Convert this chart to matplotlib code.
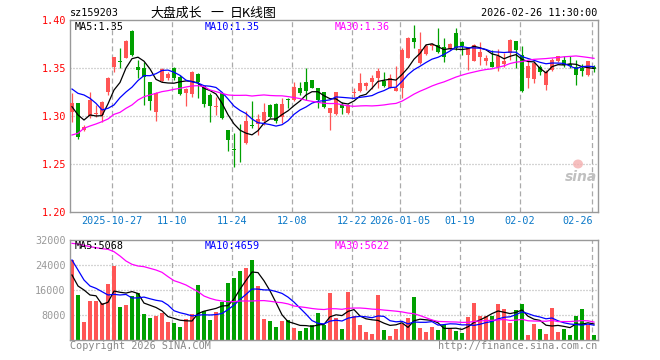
import numpy as np
import pandas as pd
import matplotlib
matplotlib.use("Agg")
import matplotlib.pyplot as plt
from matplotlib.patches import Ellipse

W, H = 660, 360
plt.rcParams["lines.scale_dashes"] = False
MONO = "DejaVu Sans Mono"
CJK = ["Noto Sans CJK SC", "DejaVu Sans"]

# daily candles, 2025-10-16 .. 2026-02-26 (88 trading days)
opens = [1.3038, 1.3132, 1.2854, 1.3004, 1.3017, 1.3011, 1.3254, 1.3514, 1.3576, 1.3608,
         1.3886, 1.3514, 1.3497, 1.3351, 1.3045, 1.3365, 1.3392, 1.3504, 1.3410, 1.3236,
         1.3229, 1.3438, 1.3313, 1.3219, 1.3097, 1.3236, 1.2854, 1.2656, 1.2785, 1.2715,
         1.2906, 1.2913, 1.2948, 1.3115, 1.3122, 1.2993, 1.3177, 1.3167, 1.3295, 1.3351,
         1.3375, 1.3288, 1.3254, 1.3028, 1.3017, 1.3115, 1.3028, 1.3243, 1.3261, 1.3316,
         1.3351, 1.3392, 1.3368, 1.3295, 1.3264, 1.3295, 1.3608, 1.3816, 1.3549, 1.3646,
         1.3733, 1.3740, 1.3715, 1.3698, 1.3865, 1.3771, 1.3639, 1.3577, 1.3611, 1.3570,
         1.3563, 1.3511, 1.3542, 1.3657, 1.3778, 1.3632, 1.3396, 1.3389, 1.3507, 1.3326,
         1.3483, 1.3570, 1.3580, 1.3542, 1.3507, 1.3500, 1.3424, 1.3507]
highs = [1.3236, 1.3139, 1.2906, 1.3247, 1.3115, 1.3156, 1.3410, 1.3618, 1.3712, 1.3792,
         1.3896, 1.3583, 1.3566, 1.3358, 1.3254, 1.3497, 1.3462, 1.3514, 1.3427, 1.3288,
         1.3469, 1.3445, 1.3316, 1.3236, 1.3201, 1.3243, 1.2854, 1.2820, 1.2917, 1.3052,
         1.3156, 1.3017, 1.3132, 1.3122, 1.3132, 1.3184, 1.3191, 1.3351, 1.3358, 1.3497,
         1.3375, 1.3295, 1.3254, 1.3080, 1.3254, 1.3143, 1.3122, 1.3288, 1.3445, 1.3358,
         1.3427, 1.3497, 1.3455, 1.3438, 1.3521, 1.3705, 1.3826, 1.3948, 1.3879, 1.3747,
         1.3757, 1.3920, 1.3809, 1.3757, 1.3917, 1.3778, 1.3715, 1.3754, 1.3771, 1.3639,
         1.3691, 1.3702, 1.3657, 1.3802, 1.3785, 1.3726, 1.3570, 1.3570, 1.3535, 1.3483,
         1.3604, 1.3629, 1.3622, 1.3622, 1.3587, 1.3542, 1.3577, 1.3528]
lows = [1.2941, 1.2761, 1.2844, 1.2976, 1.2993, 1.2941, 1.3219, 1.3462, 1.3504, 1.3601,
        1.3629, 1.3392, 1.3115, 1.3063, 1.2948, 1.3358, 1.3375, 1.3375, 1.3219, 1.3108,
        1.3202, 1.3191, 1.3097, 1.2941, 1.3011, 1.2965, 1.2636, 1.2472, 1.2524, 1.2708,
        1.2879, 1.2802, 1.2906, 1.2976, 1.2924, 1.2924, 1.3080, 1.3156, 1.3219, 1.3167,
        1.3288, 1.3080, 1.3080, 1.2854, 1.3011, 1.3017, 1.3017, 1.3201, 1.3254, 1.3268,
        1.3281, 1.3295, 1.3299, 1.3288, 1.3261, 1.3184, 1.3601, 1.3705, 1.3542, 1.3636,
        1.3688, 1.3653, 1.3566, 1.3688, 1.3691, 1.3639, 1.3483, 1.3570, 1.3535, 1.3528,
        1.3507, 1.3465, 1.3507, 1.3587, 1.3500, 1.3250, 1.3292, 1.3344, 1.3431, 1.3274,
        1.3472, 1.3559, 1.3511, 1.3500, 1.3326, 1.3413, 1.3413, 1.3458]
closes = [1.3132, 1.2785, 1.2889, 1.3167, 1.3028, 1.3149, 1.3399, 1.3611, 1.3559, 1.3781,
          1.3636, 1.3476, 1.3403, 1.3156, 1.3236, 1.3486, 1.3438, 1.3392, 1.3229, 1.3281,
          1.3462, 1.3351, 1.3125, 1.3104, 1.3104, 1.2983, 1.2750, 1.2646, 1.2778, 1.2948,
          1.2896, 1.2969, 1.3038, 1.2993, 1.2948, 1.3125, 1.3167, 1.3306, 1.3236, 1.3261,
          1.3295, 1.3167, 1.3097, 1.3080, 1.3254, 1.3080, 1.3115, 1.3254, 1.3340, 1.3340,
          1.3399, 1.3469, 1.3316, 1.3392, 1.3295, 1.3688, 1.3816, 1.3767, 1.3698, 1.3733,
          1.3747, 1.3663, 1.3618, 1.3747, 1.3708, 1.3726, 1.3708, 1.3743, 1.3667, 1.3604,
          1.3511, 1.3629, 1.3570, 1.3795, 1.3691, 1.3264, 1.3517, 1.3552, 1.3458, 1.3455,
          1.3587, 1.3622, 1.3535, 1.3517, 1.3431, 1.3465, 1.3570, 1.3493]
volumes = [25600, 14400, 5760, 12480, 12480, 11733, 17920, 23680, 10560, 11200,
           14080, 14933, 8320, 7040, 7680, 8640, 5760, 5440, 4160, 6720,
           8320, 17600, 9280, 6400, 8960, 12160, 18240, 19840, 22080, 23040,
           25600, 17280, 6720, 6080, 4160, 6080, 6400, 3840, 2880, 3840,
           4800, 8640, 4800, 15040, 7040, 3520, 15360, 7680, 4800, 2560,
           1920, 14400, 3200, 1280, 3520, 5120, 7040, 13760, 3840, 2560,
           4160, 3200, 4800, 3840, 2880, 2240, 7360, 11840, 7680, 7680,
           7680, 11520, 9920, 5440, 9600, 11520, 1600, 5120, 3520, 1920,
           10240, 2560, 3520, 1600, 7680, 9920, 4800, 1600]

# MA values at the left edge (their windows start before the first candle)
ma5_head = [1.3097, 1.3011, 1.2958, 1.3011]
ma10_head = [1.3281, 1.3236, 1.3219, 1.3184, 1.3132, 1.3063, 1.3080, 1.3115, 1.3191]
ma30_head = [1.2802, 1.2820, 1.2872, 1.2896, 1.2917, 1.2941, 1.2969, 1.3017, 1.3038, 1.3080,
             1.3115, 1.3167, 1.3201, 1.3219, 1.3236, 1.3254, 1.3264, 1.3278, 1.3288, 1.3302,
             1.3313, 1.3316, 1.3306, 1.3271, 1.3254, 1.3236, 1.3219, 1.3215, 1.3215]
vma5_head = [20800, 17280, 16000, 14400]
vma10_head = [25600, 22400, 19200, 17280, 16533, 15467, 14400, 14613, 14400]
vma30_head = [30933, 30720, 30293, 29867, 29547, 29227, 29013, 28267, 26880, 25280,
              24213, 23680, 23467, 22933, 22400, 21653, 20267, 18987, 18347, 17600,
              16533, 15467, 14080, 13333, 12800, 12480, 12267, 12267, 12480]

tick_idx = [7, 17, 27, 37, 47, 55, 65, 75, 87]
tick_labels = ["2025-10-27", "11-10", "11-24", "12-08", "12-22", "2026-01-05",
               "01-19", "02-02", "02-26"]
price_ticks = [1.20, 1.25, 1.30, 1.35, 1.40]
vol_ticks = [8000, 16000, 24000, 32000]
price_legend = ["MA5:1.35", "MA10:1.35", "MA30:1.36"]
vol_legend = ["MA5:5068", "MA10:4659", "MA30:5622"]

RED, GREEN = "#ff5555", "#00a000"
MA_COLORS = ["black", "#0000ff", "#ff00ff"]
GRID = "#aaaaaa"
FRAME = "#999999"


def moving_avg(vals, n, head):
    s = pd.Series(vals, dtype=float).rolling(n).mean().to_numpy()
    s[:len(head)] = head
    return s


def px(x, y):
    return x / W, 1 - y / H


o, h, l, c = map(np.array, (opens, highs, lows, closes))
v = np.array(volumes, dtype=float)
idx = np.arange(len(c))
up = c >= o
cols = np.where(up, RED, GREEN)

fig = plt.figure(figsize=(W / 100, H / 100), dpi=100)
ax = fig.add_axes([70 / W, 1 - 212 / H, 528 / W, 192 / H])
axv = fig.add_axes([70 / W, 1 - 340 / H, 528 / W, 100 / H])

xlim = (-2 / 6, 526 / 6)
for a in (ax, axv):
    a.set_xlim(*xlim)
    a.set_xticks([])
    for sp in a.spines.values():
        sp.set_color(FRAME)
        sp.set_linewidth(1)
    for t in tick_idx:
        a.axvline(t - 0.33, color=GRID, lw=0.9, ls=(0, (3.6, 2.2)), zorder=0)
    a.tick_params(axis="y", length=0, pad=3)

# price panel
ax.set_ylim(1.20, 1.40)
for y in price_ticks[1:-1]:
    ax.axhline(y, color=GRID, lw=0.9, ls=(0, (0.72, 1.44)), zorder=0)
ax.set_yticks(price_ticks)
ax.set_yticklabels([f"{t:.2f}" for t in price_ticks], family=MONO, fontsize=7.3, color="red")

ax.vlines(idx, l, h, colors=cols, lw=0.9, zorder=2)
body = np.maximum(np.abs(c - o), 0.0004)
ax.bar(idx, body, bottom=np.minimum(o, c), width=0.8, color=cols, lw=0, zorder=3)

for n, head, col in zip((5, 10, 30), (ma5_head, ma10_head, ma30_head), MA_COLORS):
    ax.plot(idx, moving_avg(c, n, head), color=col, lw=0.9, zorder=4)

# volume panel
axv.set_ylim(0, 32000)
for y in vol_ticks[:-1]:
    axv.axhline(y, color=GRID, lw=0.9, ls=(0, (0.72, 1.44)), zorder=0)
axv.set_yticks(vol_ticks)
axv.set_yticklabels([str(t) for t in vol_ticks], family=MONO, fontsize=7.3, color="#999999")
axv.bar(idx, v, width=0.8, color=cols, lw=0, zorder=2)
for n, head, col in zip((5, 10, 30), (vma5_head, vma10_head, vma30_head), MA_COLORS):
    axv.plot(idx, moving_avg(v, n, head), color=col, lw=0.9, zorder=4)

# date labels under the price panel
for t, lab in zip(tick_idx, tick_labels):
    ha = "right" if t == tick_idx[-1] else "center"
    xt = t - 0.2 if ha == "right" else t - 0.33
    ax.text(xt, -0.047, lab, transform=ax.get_xaxis_transform(), ha=ha, va="center",
            family=MONO, fontsize=7.3, color="#0a78c8")

# legends
for xp, txt, col in zip((75, 205, 335), price_legend, MA_COLORS):
    fig.text(*px(xp, 27), txt, family=MONO, fontsize=7.3, color=col, va="center")
for xp, txt, col in zip((75, 205, 335), vol_legend, MA_COLORS):
    fig.text(*px(xp, 246), txt, family=MONO, fontsize=7.3, color=col, va="center")

# header
fig.text(*px(70, 13), "sz159203", family=MONO, fontsize=7.3, color="black", va="center")
fig.text(*px(150, 13), "大盘成长", family=CJK, fontsize=9.3, color="black", va="center")
fig.text(*px(217, 13), "一", family=CJK, fontsize=9.3, color="black", va="center", ha="center")
fig.text(*px(230, 13), "日K线图", family=CJK, fontsize=9.3, color="black", va="center")
fig.text(*px(597, 13), "2026-02-26 11:30:00", family=MONO, fontsize=7.3, color="black",
         va="center", ha="right")

# footer
fig.text(*px(70, 346), "Copyright 2026 SINA.COM", family=MONO, fontsize=7.3, color="#888888", va="center")
fig.text(*px(597, 346), "http://finance.sina.com.cn", family=MONO, fontsize=7.3, color="#888888",
         va="center", ha="right")

# watermark
fig.add_artist(Ellipse(px(578, 164), 10 / W, 9 / H, transform=fig.transFigure,
                       facecolor="#f4b0b0", edgecolor="none", alpha=0.8))
fig.text(*px(597, 177), "sina", fontsize=10, style="italic", weight="bold",
         color="#c0c0c0", va="center", ha="right")

fig.savefig("out.png", dpi=100)
